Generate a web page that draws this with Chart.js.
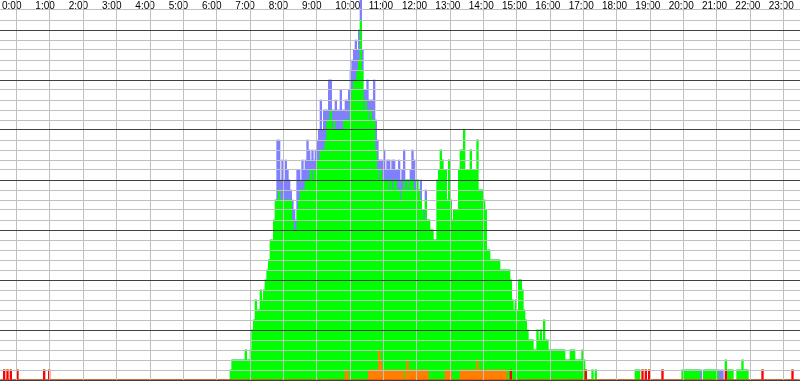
<!DOCTYPE html>
<html><head><meta charset="utf-8">
<style>html,body{margin:0;padding:0;background:#fff;overflow:hidden}#c{display:block}</style>
<script src="https://cdn.jsdelivr.net/npm/chart.js@4.4.0/dist/chart.umd.min.js"></script>
</head><body>
<canvas id="c" width="800" height="381"></canvas>
<script>
// ---- data (one bar = 3 minutes) ----
const minutesPerBar = 3;
const hourLabels = ['0:00','1:00','2:00','3:00','4:00','5:00','6:00','7:00','8:00','9:00','10:00','11:00',
  '12:00','13:00','14:00','15:00','16:00','17:00','18:00','19:00','20:00','21:00','22:00','23:00'];

// day block starts at bar 138 (6:54)
const dayFirstBar = 138;
const greenDay = [
 1,2,2,2,2,2,2,2,2,3, 2,2,3,5,6,8,7,7,9,8, 9,10,11,12,14,14,16,18,18,19,
 18,18,18,18,18,18,18,16,15,15, 17,18,19,19,19,20,20,20,21,20, 21,21,22,22,23,23,23,24,26,26,
 27,25,26,25,25,25,25,25,26,25, 25,26,28,29,30,30,31,32,36,31, 27,28,27,25,26,25,25,22,20,17,
 19,19,19,19,19,18,19,18,19,19, 18,18,17,18,20,18,18,18,19,19, 18,18,19,18,17,16,15,17,15,16,
 15,15,14,14,20,21,23,22,21,20, 17,21,17,16,17,17,17,21,22,22, 24,20,20,20,22,20,20,20,22,18,
 18,18,17,16,12,12,11,11,11,11, 11,11,10,10,10,10,11,11,9,8, 7,8,7,10,10,9,7,6,5,4,
 4,4,3,3,5,4,5,4,6,4, 4,3,3,3,3,3,3,3,3,3, 3,2,2,2,3,3,3,2,2,2,
 2,3,2,0,0,0,0,1,0,1,0
];
const blueDay = [
 0,0,0,0,0,0,0,0,0,0, 0,0,0,0,0,0,0,0,0,0, 0,0,0,0,0,0,0,0,6,5,
 2,4,2,4,3,2,1,2,2,1, 4,3,1,3,2,2,4,3,1,3, 1,2,2,3,5,2,4,3,1,4,
 3,2,1,3,2,2,4,2,1,2, 2,3,3,3,3,4,2,3,2,2, 2,1,3,2,1,2,4,3,3,2,
 1,2,3,1,2,3,1,3,2,1, 2,3,2,2,3,1,0,1,1,3, 3,1,0,0,2,0,1,1
];
const orangeDay = [
 0,0,0,0,0,0,0,0,0,0, 0,0,0,0,0,0,0,0,0,0, 0,0,0,0,0,0,0,0,0,0,
 0,0,0,0,0,0,0,0,0,0, 0,0,0,0,0,0,0,0,0,0, 0,0,0,0,0,0,0,0,0,0,
 0,0,0,0,0,0,0,0,0,1, 1,0,0,0,0,0,0,0,0,0, 0,0,0,1,1,1,1,1,1,3,
 2,1,1,1,1,1,1,1,1,1, 1,1,1,1,0,1,2,1,1,1, 1,1,1,1,1,1,1,1,1,0,
 0,0,0,0,0,0,0,0,0,1, 1,1,1,0,0,0,0,0,1,1, 1,1,1,1,1,1,1,1,2,1,
 1,1,1,1,1,1,1,1,1,1, 1,1,1,1,1,1
];
// evening block starts at bar 380 (19:00)
const eveningFirstBar = 380;
const greenEvening = [
 0,1,1,1,0,0,0,0,0,0, 0,0,0,0,0,0,0,0,0,0, 0,0,0,0,0,0,0,0,0,1,
 1,1,1,1,1,1,1,1,1,1, 0,0,1,1,1,1,1,1,1,1, 1,0,0,0,0,1,1,1,1,1,
 0,0,1,1,1,2,1,1,1,0
];
const blueEvening = [
 0,0,0,0,0,0,0,0,0,0, 0,0,0,0,0,0,0,0,0,0, 0,0,0,0,0,0,0,0,0,0,
 0,0,0,0,0,0,0,0,0,0, 1,0,0,0,0,0,0,0,0,0, 0,1,1,1
];
// bars that hold a single red entry
const redBars = [2,4,6,10,26,29,306,351,385,387,389,397,435,457,475];

// ---- build full-day series ----
const nBars = 1440 / minutesPerBar;
function place(parts) {
  const out = new Array(nBars).fill(0);
  parts.forEach(([arr, first]) => arr.forEach((v, i) => { out[first + i] = v; }));
  return out;
}
const redAll = new Array(nBars).fill(0);
redBars.forEach(b => { redAll[b] = 1; });
const orangeAll = place([[orangeDay, dayFirstBar]]);
const greenAll = place([[greenDay, dayFirstBar], [greenEvening, eveningFirstBar]]);
const blueAll = place([[blueDay, dayFirstBar], [blueEvening, eveningFirstBar]]);
const pts = arr => arr.map((v, i) => ({x: (i + 0.5) * minutesPerBar, y: v}));

const FONT = 'Liberation Sans, Arial, sans-serif';
new Chart(document.getElementById('c'), {
  type: 'bar',
  data: {
    datasets: [
      {label: 'red', data: pts(redAll), backgroundColor: '#ff0000'},
      {label: 'orange', data: pts(orangeAll), backgroundColor: '#ff8000'},
      {label: 'green', data: pts(greenAll), backgroundColor: '#00ff00'},
      {label: 'blue', data: pts(blueAll), backgroundColor: '#8080ff'}
    ]
  },
  options: {
    responsive: false,
    animation: false,
    devicePixelRatio: 1,
    events: [],
    layout: {padding: {left: 0, right: 0, top: 0, bottom: 1}},
    plugins: {legend: {display: false}, tooltip: {enabled: false}},
    datasets: {bar: {barPercentage: 1, categoryPercentage: 1, borderWidth: 0}},
    scales: {
      x: {
        type: 'linear', position: 'top', min: 0, max: 1440, stacked: true, offset: false,
        afterFit: s => { s.height = 0; s.paddingLeft = 0; s.paddingRight = 0; },
        ticks: {
          stepSize: 60, autoSkip: false, maxRotation: 0, minRotation: 0,
          mirror: true, padding: 0, align: 'start', labelOffset: 2,
          color: '#000', font: {family: FONT, size: 10},
          callback: v => (v < 1440 ? hourLabels[v / 60] : '')
        },
        grid: {color: c => (c.tick && c.tick.value === 0 ? 'rgba(0,0,0,0)' : '#c0c0c0'), lineWidth: 1, drawTicks: false, z: 1},
        border: {display: false}
      },
      y: {
        min: 0, max: 38, stacked: true,
        afterFit: s => { s.width = 0; },
        ticks: {stepSize: 1, display: false},
        grid: {
          color: c => (c.tick.value === 38 ? 'rgba(0,0,0,0)' : (c.tick.value % 5 === 0 ? '#404040' : '#c0c0c0')),
          lineWidth: 1, drawTicks: false, z: 2
        },
        border: {display: false}
      }
    }
  }
});
</script>
</body></html>
